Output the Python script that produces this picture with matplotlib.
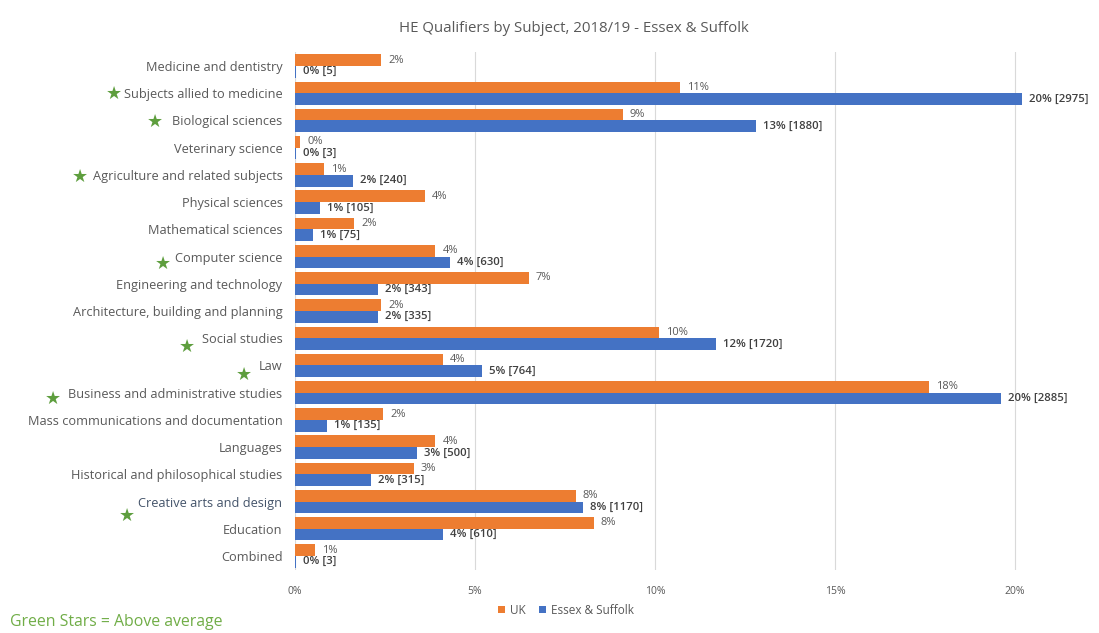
import numpy as np
import matplotlib.pyplot as plt

# subjects, top to bottom
subjects = [
    "Medicine and dentistry", "Subjects allied to medicine", "Biological sciences",
    "Veterinary science", "Agriculture and related subjects", "Physical sciences",
    "Mathematical sciences", "Computer science", "Engineering and technology",
    "Architecture, building and planning", "Social studies", "Law",
    "Business and administrative studies", "Mass communications and documentation",
    "Languages", "Historical and philosophical studies", "Creative arts and design",
    "Education", "Combined",
]

# share of qualifiers (%)
uk_pct = [2.4, 10.7, 9.1, 0.15, 0.8, 3.6, 1.65, 3.9, 6.5, 2.4,
          10.1, 4.1, 17.6, 2.45, 3.9, 3.3, 7.8, 8.3, 0.55]
es_pct = [0.03, 20.2, 12.8, 0.02, 1.6, 0.7, 0.5, 4.3, 2.3, 2.3,
          11.7, 5.2, 19.6, 0.9, 3.4, 2.1, 8.0, 4.1, 0.02]
es_count = [5, 2975, 1880, 3, 240, 105, 75, 630, 343, 335,
            1720, 764, 2885, 135, 500, 315, 1170, 610, 3]

# subjects where Essex & Suffolk is above the UK average
above_avg = ["Subjects allied to medicine", "Biological sciences",
             "Agriculture and related subjects", "Computer science", "Social studies",
             "Law", "Business and administrative studies", "Creative arts and design"]

xticks = [0, 5, 10, 15, 20]

orange = "#ED7D31"
blue = "#4472C4"
grey = "#595959"
star_green = "#5E9E3E"


def pct(v):
    # round half up, like the spreadsheet does
    return f"{int(np.floor(v + 0.5))}%"


plt.rcParams['font.family'] = ['Open Sans', 'DejaVu Sans']

fig = plt.figure(figsize=(10.99, 6.33), dpi=100)
ax = fig.add_axes([295 / 1099, 1 - 569.6 / 633, (1033 - 295) / 1099, 517.2 / 633])

n = len(subjects)
y = np.arange(n)
h = 0.43
ax.barh(y - h / 2, uk_pct, height=h, color=orange, label="UK", zorder=3)
ax.barh(y + h / 2, es_pct, height=h, color=blue, label="Essex & Suffolk", zorder=3)

for i in range(n):
    ax.annotate(pct(uk_pct[i]), (uk_pct[i], y[i] - h / 2), xytext=(5, 0),
                textcoords="offset points", va="center", ha="left",
                fontsize=8, color=grey)
    ax.annotate(f"{pct(es_pct[i])} [{es_count[i]}]", (es_pct[i], y[i] + h / 2),
                xytext=(5, 0), textcoords="offset points", va="center", ha="left",
                fontsize=8.2, color="#404040", fontweight="semibold")

ax.set_ylim(n - 0.5, -0.5)
ax.set_xlim(0, 20.5)
ax.set_yticks(y)
ax.set_yticklabels(subjects, fontsize=9.2, color=grey)
for lbl in ax.get_yticklabels():
    if lbl.get_text() == "Creative arts and design":
        lbl.set_color("#44546A")
ax.set_xticks(xticks)
ax.set_xticklabels([f"{t}%" for t in xticks], fontsize=7.5, color=grey)
ax.tick_params(length=0, pad=9)
ax.tick_params(axis='x', pad=12)
ax.grid(axis='x', color="#D9D9D9", linewidth=0.8, zorder=0)
for s in ax.spines.values():
    s.set_visible(False)

# green stars next to the above-average subjects (pixel offsets from the label start)
star_offsets = {
    "Subjects allied to medicine": (-10, 1),
    "Biological sciences": (-17, 0),
    "Agriculture and related subjects": (-13, -1),
    "Computer science": (-12, -6),
    "Social studies": (-15, -7),
    "Law": (-15, -8),
    "Business and administrative studies": (-15, -5),
    "Creative arts and design": (-12, -13),
}
fig.canvas.draw()
renderer = fig.canvas.get_renderer()
for lbl in ax.get_yticklabels():
    name = lbl.get_text()
    if name in above_avg:
        bb = lbl.get_window_extent(renderer)
        dx, dy = star_offsets[name]
        xs = (bb.x0 + dx) / fig.bbox.width
        ys = ((bb.y0 + bb.y1) / 2 + dy) / fig.bbox.height
        fig.text(xs, ys, "\u2605", color=star_green, fontsize=13,
                 ha="center", va="center", family="DejaVu Sans")

fig.text(574 / 1099, 1 - 28 / 633, "HE Qualifiers by Subject, 2018/19 - Essex & Suffolk",
         fontsize=10.8, color=grey, ha="center", va="center")

fig.legend(loc="center", bbox_to_anchor=(566 / 1099, 1 - 610 / 633), ncol=2,
           frameon=False, fontsize=8.5, handlelength=0.6, handleheight=0.6,
           columnspacing=1.2, handletextpad=0.4, labelcolor=grey)

fig.text(10 / 1099, 1 - 622 / 633, "Green Stars = Above average",
         color="#70AD47", fontsize=11.4, ha="left", va="center")

fig.savefig("out.png", dpi=100)
